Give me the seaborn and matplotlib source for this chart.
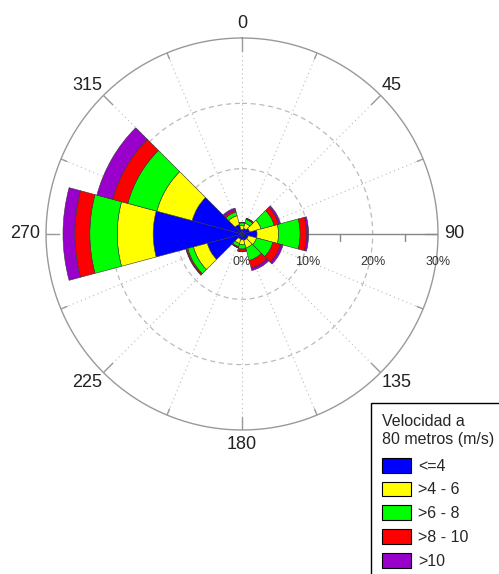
import numpy as np
import pandas as pd
import seaborn as sns
import matplotlib.pyplot as plt
from matplotlib.transforms import offset_copy

# -------------------------------------------------------------------------------------------------------------------
# wind rose data (% of time), 12 sectors of 30 deg
directions = [0, 30, 60, 90, 120, 150, 180, 210, 240, 270, 300, 330]
speed_le4 = [0.7, 0.9, 1.2, 2.3, 1.0, 1.0, 0.9, 0.8, 5.5, 13.6, 7.9, 1.5]
speed_4_6 = [0.6, 0.8, 1.8, 3.3, 1.3, 1.2, 0.7, 0.7, 2.2, 5.5, 5.6, 1.4]
speed_6_8 = [0.4, 0.6, 2.1, 3.3, 2.6, 2.0, 0.7, 0.5, 0.9, 4.2, 4.6, 0.6]
speed_8_10 = [0.08, 0.15, 0.7, 1.0, 1.2, 1.2, 0.35, 0.15, 0.2, 2.3, 2.4, 0.3]
speed_gt10 = [0.03, 0.05, 0.3, 0.3, 0.4, 0.4, 0.05, 0.05, 0.1, 1.8, 2.5, 0.3]
bin_labels = ['<=4', '>4 - 6', '>6 - 8', '>8 - 10', '>10']
bin_colors = ['#0000ff', '#ffff00', '#00ff00', '#ff0000', '#9900cc']
angle_labels = [0, 45, 90, 135, 180, 225, 270, 315]
pct_ticks = [0, 10, 20, 30]
# -------------------------------------------------------------------------------------------------------------------
df = pd.DataFrame({'dir': directions, '<=4': speed_le4, '>4 - 6': speed_4_6, '>6 - 8': speed_6_8,
                   '>8 - 10': speed_8_10, '>10': speed_gt10})

sns.set_theme(style='white')
plt.rcParams['font.family'] = ['Liberation Sans', 'DejaVu Sans']

fig = plt.figure(figsize=(4.99, 5.74), dpi=100)
ax = fig.add_axes([0.0922, 0.2509, 0.7856, 0.6829], projection='polar')
ax.set_theta_zero_location('N')
ax.set_theta_direction(-1)
ax.set_ylim(0, 30)
ax.set_xticks([])
ax.set_yticks([])
ax.grid(False)
ax.spines['polar'].set_visible(False)
ax.set_facecolor('white')

# grid ---------------------------------------------------------------------------------------------------------------
t = np.linspace(0, 2 * np.pi, 500)
ax.plot(t, np.full_like(t, 30), color='#999999', lw=1.0, clip_on=False, zorder=1)
for r in [10, 20]:
    ax.plot(t, np.full_like(t, r), color='#bbbbbb', lw=0.9, ls=(0, (4, 3)), zorder=1)
for a in np.arange(0, 360, 22.5):
    ax.plot([np.deg2rad(a)] * 2, [0, 30], color='#bbbbbb', lw=0.8, ls=(0, (1, 3)), zorder=1)
    tick_len = 2.0 if a % 45 == 0 else 1.0
    ax.plot([np.deg2rad(a)] * 2, [30 - tick_len, 30], color='#999999', lw=1.0, zorder=1)

# east axis with % scale
ax.plot([np.pi / 2] * 2, [0, 30], color='#888888', lw=1.0, zorder=1)


def to_polar(x, y):
    return np.arctan2(x, y), np.hypot(x, y)


for r in [5, 15, 25]:
    th0, r0 = to_polar(r, 0)
    th1, r1 = to_polar(r, -1.1)
    ax.plot([th0, th1], [r0, r1], color='#888888', lw=1.0, zorder=1)

below = offset_copy(ax.transData, fig=fig, x=0, y=-22, units='dots')
for p in pct_ticks:
    ax.text(np.pi / 2, p, f'{p}%', transform=below, ha='center', va='top', fontsize=9, color='#333333', zorder=6)

# angle labels
for a in angle_labels:
    s, c = np.sin(np.deg2rad(a)), np.cos(np.deg2rad(a))
    ha = 'left' if s > 0.01 else ('right' if s < -0.01 else 'center')
    va = 'bottom' if c > 0.01 else ('top' if c < -0.01 else 'center')
    rr = 30.2 if a % 90 else 30.9
    ax.text(np.deg2rad(a), rr, str(a), ha=ha, va=va, fontsize=13, color='#222222')

# bars ---------------------------------------------------------------------------------------------------------------
theta = np.deg2rad(df['dir'].values)
bottom = np.zeros(len(df))
handles = []
for lab, col in zip(bin_labels, bin_colors):
    vals = df[lab].values
    b = ax.bar(theta, vals, width=np.deg2rad(30), bottom=bottom, color=col, edgecolor='#333333',
               linewidth=0.4, zorder=3, label=lab)
    handles.append(b)
    bottom = bottom + vals

# legend
leg = fig.legend(handles=handles, labels=bin_labels, title='Velocidad a\n80 metros (m/s)',
                 loc='upper left', bbox_to_anchor=(0.7435, 0.2979), fontsize=11.5, title_fontsize=11.5,
                 frameon=True, fancybox=False, framealpha=1, edgecolor='black',
                 handlelength=1.8, handleheight=1.05, handletextpad=0.45, labelspacing=0.5,
                 borderpad=0.7, borderaxespad=0)
leg._legend_box.align = 'left'
leg._legend_box.sep = 8
leg.get_frame().set_linewidth(1.0)
for p in leg.get_patches():
    p.set_edgecolor('black')
    p.set_linewidth(0.8)

plt.savefig('out.png', dpi=100)
